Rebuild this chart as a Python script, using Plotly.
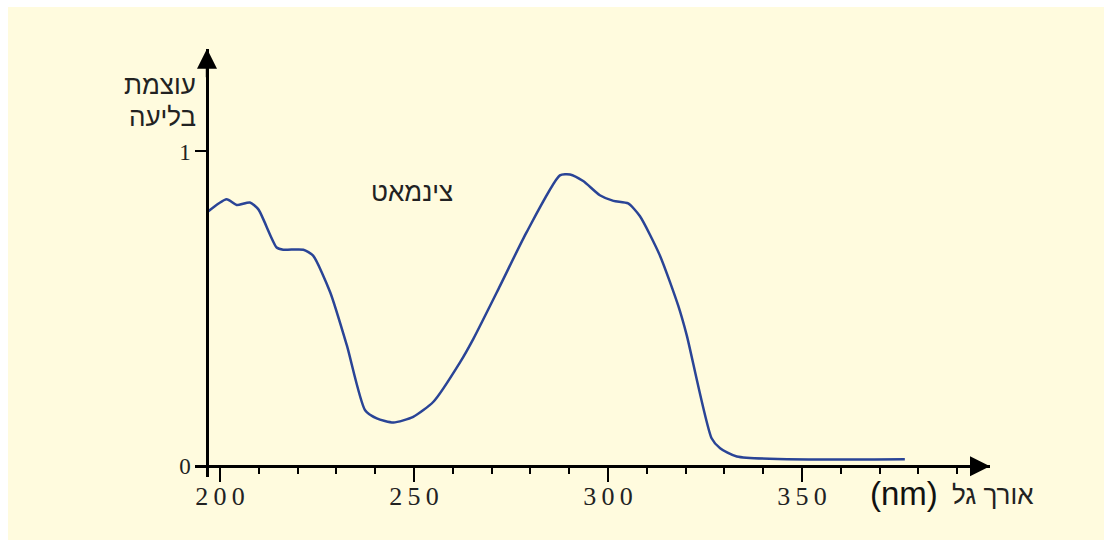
import plotly.graph_objects as go

# ---- data ----
wavelength = [196.6, 201.7, 204.3, 207.7, 209.9, 214.6, 216.3, 221.5, 224.0, 228.4,
              232.7, 237.4, 240.4, 244.7, 249.8, 255.0, 261.9, 265.3, 272.2, 279.0,
              287.6, 290.2, 293.6, 297.9, 301.4, 305.2, 308.2, 313.4, 318.1, 320.3,
              326.7, 328.9, 333.2, 376.5]
absorbance = [0.806, 0.848, 0.830, 0.838, 0.816, 0.695, 0.688, 0.688, 0.669, 0.553,
              0.384, 0.178, 0.152, 0.139, 0.157, 0.205, 0.331, 0.405, 0.574, 0.743,
              0.924, 0.927, 0.906, 0.861, 0.843, 0.835, 0.795, 0.669, 0.510, 0.416,
              0.089, 0.057, 0.031, 0.022]
major_ticks = [200, 250, 300, 350]
major_tick_labels = ["200", "250", "300", "350"]
y_ticks = [0, 1]
y_tick_labels = ["0", "1"]
curve_label = "צינמאט"
y_title = ["עוצמת", "בליעה"]
x_title_unit = "(nm)"
x_title_text = "אורך גל"

W, H = 1112, 549
X_RANGE = [193.56, 398.45]
Y_RANGE = [-0.0348, 1.326]

SP = "\u2009"  # thin space for the wide digit spacing
spaced_labels = [SP.join(list(t)) for t in major_tick_labels]

fig = go.Figure()
fig.add_trace(go.Scatter(
    x=wavelength, y=absorbance, mode="lines",
    line=dict(color="#2A4496", width=2.5, shape="spline", smoothing=0.6),
    hoverinfo="skip", showlegend=False))

fig.update_layout(
    width=W, height=H, autosize=False,
    margin=dict(l=0, r=0, t=0, b=0),
    paper_bgcolor="white", plot_bgcolor="rgba(0,0,0,0)",
    xaxis=dict(
        domain=[195 / W, 990 / W], range=X_RANGE,
        anchor="free", position=(H - 468) / H,
        showgrid=False, zeroline=False,
        showline=True, linecolor="black", linewidth=2.5,
        tickmode="array", tickvals=major_ticks, ticktext=spaced_labels,
        ticks="outside", ticklen=14, tickwidth=2, tickcolor="black",
        ticklabelstandoff=-8,
        tickfont=dict(family="Liberation Serif, serif", size=26, color="#222"),
        minor=dict(dtick=10, tick0=200, ticks="outside", ticklen=6, tickwidth=2, tickcolor="black"),
    ),
    yaxis=dict(
        domain=[(H - 479) / H, (H - 49) / H], range=Y_RANGE,
        anchor="free", position=207 / W,
        showgrid=False, zeroline=False,
        showline=True, linecolor="black", linewidth=2.5,
        tickmode="array", tickvals=y_ticks, ticktext=y_tick_labels,
        ticks="outside", ticklen=11, tickwidth=2, tickcolor="black",
        tickfont=dict(family="Liberation Serif, serif", size=23, color="#222"),
    ),
    shapes=[dict(type="rect", xref="paper", yref="paper",
                 x0=8 / W, x1=1104 / W, y0=1 - 542 / H, y1=1 - 7 / H,
                 fillcolor="#FFFBDE", line=dict(width=0), layer="below")],
)

# arrowheads on axes
fig.add_annotation(x=X_RANGE[1], y=0, xref="x", yref="y", ax=-30, ay=0,
                   showarrow=True, arrowhead=2, arrowsize=1.6, arrowwidth=2.5,
                   arrowcolor="black", standoff=0, text="")
fig.add_annotation(x=X_RANGE[0] + 3.1, y=Y_RANGE[1], xref="x", yref="y", ax=0, ay=30,
                   showarrow=True, arrowhead=2, arrowsize=1.6, arrowwidth=2.5,
                   arrowcolor="black", standoff=0, text="")

hebrew_font = "Liberation Sans, Arial, sans-serif"
# curve label
fig.add_annotation(x=412 / W, y=1 - 193 / H, xref="paper", yref="paper",
                   text=curve_label, showarrow=False, yanchor="middle",
                   font=dict(family=hebrew_font, size=26, color="#222"))
# y title
fig.add_annotation(x=198 / W, y=1 - 85 / H, xref="paper", yref="paper",
                   text=y_title[0], showarrow=False, xanchor="right", yanchor="middle",
                   font=dict(family=hebrew_font, size=26, color="#222"))
fig.add_annotation(x=198 / W, y=1 - 117 / H, xref="paper", yref="paper",
                   text=y_title[1], showarrow=False, xanchor="right", yanchor="middle",
                   font=dict(family=hebrew_font, size=26, color="#222"))
# x title (unit and Hebrew words)
fig.add_annotation(x=868 / W, y=1 - 495 / H, xref="paper", yref="paper",
                   text=x_title_unit, showarrow=False, xanchor="left", yanchor="middle",
                   font=dict(family=hebrew_font, size=33, color="#111"))
fig.add_annotation(x=1036 / W, y=1 - 497 / H, xref="paper", yref="paper",
                   text=x_title_text, showarrow=False, xanchor="right", yanchor="middle",
                   font=dict(family=hebrew_font, size=26, color="#222"))

fig.write_html("out.html")
